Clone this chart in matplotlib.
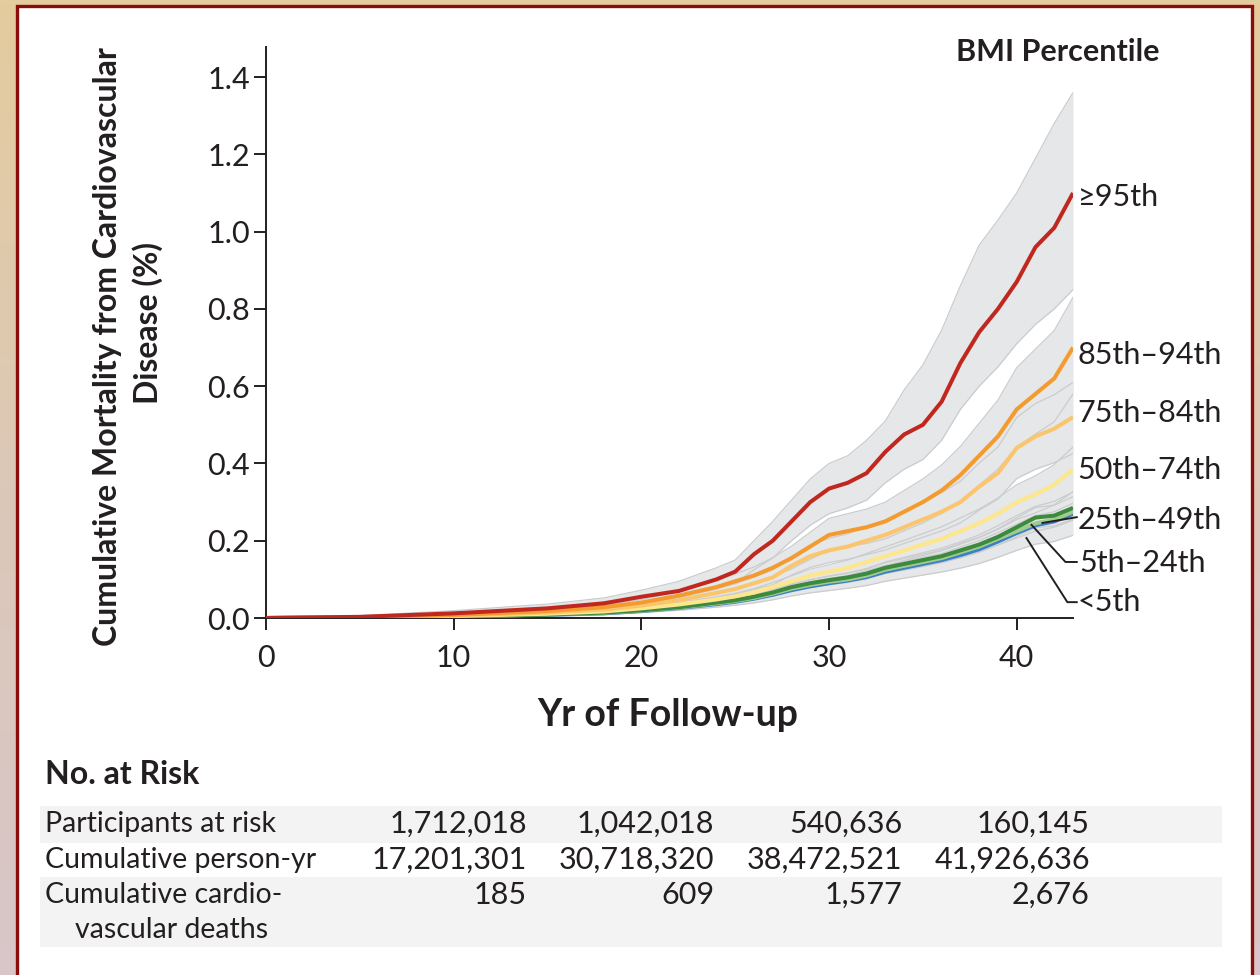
import numpy as np
import matplotlib.pyplot as plt
from matplotlib.patches import Rectangle
from matplotlib.colors import LinearSegmentedColormap
from matplotlib.transforms import blended_transform_factory

plt.rcParams['font.family'] = ['Lato', 'DejaVu Sans']

# years of follow-up where the curves were read
yrs = [0, 5, 10, 15, 18, 20, 22, 24, 25, 26, 27, 28, 29, 30, 31, 32, 33, 34, 35,
       36, 37, 38, 39, 40, 41, 42, 43]

# cumulative mortality (%) with 95% CI, by BMI percentile
p95_est = [0, 0.003, 0.012, 0.025, 0.038, 0.055, 0.07, 0.10, 0.12, 0.165, 0.20, 0.25, 0.30, 0.335,
           0.35, 0.375, 0.43, 0.475, 0.50, 0.56, 0.66, 0.74, 0.80, 0.87, 0.96, 1.01, 1.10]
p95_lo = [0, 0.001, 0.007, 0.017, 0.027, 0.04, 0.053, 0.075, 0.09, 0.125, 0.155, 0.20, 0.24, 0.27,
          0.285, 0.305, 0.35, 0.385, 0.41, 0.46, 0.54, 0.60, 0.65, 0.71, 0.76, 0.80, 0.85]
p95_hi = [0, 0.006, 0.019, 0.036, 0.052, 0.072, 0.095, 0.13, 0.15, 0.20, 0.25, 0.305, 0.36, 0.40,
          0.42, 0.46, 0.51, 0.59, 0.655, 0.745, 0.86, 0.965, 1.03, 1.10, 1.19, 1.28, 1.36]

p85_est = [0, 0.002, 0.008, 0.018, 0.028, 0.04, 0.058, 0.08, 0.095, 0.11, 0.13, 0.155, 0.185, 0.215,
           0.225, 0.235, 0.25, 0.275, 0.30, 0.33, 0.37, 0.42, 0.47, 0.54, 0.58, 0.62, 0.70]
p85_lo = [0, 0.0016, 0.0066, 0.015, 0.023, 0.033, 0.048, 0.066, 0.078, 0.09, 0.107, 0.127, 0.152, 0.176,
          0.185, 0.193, 0.205, 0.226, 0.246, 0.271, 0.303, 0.344, 0.385, 0.443, 0.476, 0.508, 0.58]
p85_hi = [0, 0.0024, 0.0096, 0.022, 0.034, 0.048, 0.07, 0.096, 0.114, 0.132, 0.156, 0.186, 0.222, 0.258,
          0.27, 0.282, 0.30, 0.33, 0.36, 0.396, 0.444, 0.504, 0.564, 0.648, 0.696, 0.744, 0.83]

p75_est = [0, 0.001, 0.006, 0.014, 0.022, 0.032, 0.046, 0.065, 0.075, 0.09, 0.105, 0.135, 0.16, 0.175,
           0.185, 0.20, 0.215, 0.235, 0.255, 0.275, 0.30, 0.34, 0.375, 0.44, 0.47, 0.49, 0.52]
p75_lo = [0, 0.0008, 0.0049, 0.0115, 0.018, 0.026, 0.038, 0.053, 0.0615, 0.074, 0.086, 0.111, 0.131, 0.1435,
          0.152, 0.164, 0.176, 0.193, 0.209, 0.2255, 0.246, 0.279, 0.3075, 0.361, 0.385, 0.402, 0.426]
p75_hi = [0, 0.0012, 0.0071, 0.0165, 0.026, 0.038, 0.054, 0.077, 0.0885, 0.106, 0.124, 0.159, 0.189, 0.2065,
          0.218, 0.236, 0.254, 0.277, 0.301, 0.3245, 0.354, 0.401, 0.4425, 0.519, 0.555, 0.578, 0.61]

p50_est = [0, 0.001, 0.005, 0.011, 0.017, 0.025, 0.035, 0.048, 0.056, 0.066, 0.08, 0.095, 0.11, 0.12,
           0.13, 0.145, 0.16, 0.175, 0.19, 0.205, 0.225, 0.245, 0.27, 0.30, 0.32, 0.345, 0.385]
p50_lo = [0, 0.00085, 0.0043, 0.0094, 0.0145, 0.021, 0.03, 0.041, 0.048, 0.056, 0.068, 0.081, 0.0935, 0.102,
          0.1105, 0.123, 0.136, 0.149, 0.1615, 0.174, 0.191, 0.208, 0.2295, 0.255, 0.272, 0.293, 0.327]
p50_hi = [0, 0.00115, 0.0058, 0.0127, 0.0196, 0.029, 0.04, 0.055, 0.064, 0.076, 0.092, 0.109, 0.1265, 0.138,
          0.1495, 0.167, 0.184, 0.201, 0.2185, 0.236, 0.259, 0.282, 0.3105, 0.345, 0.368, 0.397, 0.443]

p25_est = [0, 0.001, 0.004, 0.009, 0.014, 0.02, 0.028, 0.04, 0.046, 0.055, 0.066, 0.08, 0.09, 0.098,
           0.105, 0.115, 0.13, 0.14, 0.15, 0.16, 0.175, 0.19, 0.21, 0.235, 0.26, 0.265, 0.285]
p25_lo = [0, 0.0008, 0.0035, 0.008, 0.0125, 0.018, 0.025, 0.036, 0.041, 0.049, 0.059, 0.072, 0.081, 0.088,
          0.094, 0.103, 0.117, 0.126, 0.135, 0.144, 0.157, 0.171, 0.189, 0.211, 0.234, 0.238, 0.256]
p25_hi = [0, 0.0012, 0.0045, 0.01, 0.0155, 0.022, 0.031, 0.044, 0.051, 0.061, 0.073, 0.088, 0.099, 0.108,
          0.116, 0.127, 0.143, 0.154, 0.165, 0.176, 0.193, 0.209, 0.231, 0.259, 0.286, 0.292, 0.314]

p5_est = [0, 0.001, 0.004, 0.009, 0.013, 0.019, 0.027, 0.038, 0.044, 0.052, 0.063, 0.076, 0.086, 0.094,
          0.10, 0.11, 0.125, 0.135, 0.145, 0.155, 0.17, 0.185, 0.205, 0.225, 0.245, 0.255, 0.275]
p5_lo = [0, 0.0008, 0.0035, 0.0083, 0.012, 0.0175, 0.025, 0.035, 0.0405, 0.048, 0.058, 0.07, 0.079, 0.086,
         0.092, 0.101, 0.115, 0.124, 0.133, 0.143, 0.156, 0.17, 0.189, 0.207, 0.225, 0.235, 0.253]
p5_hi = [0, 0.0012, 0.0045, 0.0097, 0.014, 0.0205, 0.029, 0.041, 0.0475, 0.056, 0.068, 0.082, 0.093, 0.102,
         0.108, 0.119, 0.135, 0.146, 0.157, 0.167, 0.184, 0.20, 0.221, 0.243, 0.265, 0.275, 0.297]

p0_est = [0, 0.001, 0.004, 0.008, 0.012, 0.018, 0.026, 0.036, 0.042, 0.05, 0.06, 0.072, 0.082, 0.09,
          0.097, 0.106, 0.12, 0.13, 0.14, 0.15, 0.163, 0.178, 0.198, 0.22, 0.24, 0.25, 0.27]
p0_lo = [0, 0.0006, 0.003, 0.0062, 0.0093, 0.014, 0.02, 0.028, 0.033, 0.039, 0.047, 0.057, 0.065, 0.071,
         0.077, 0.084, 0.095, 0.103, 0.111, 0.119, 0.129, 0.141, 0.157, 0.175, 0.191, 0.198, 0.214]
p0_hi = [0, 0.0014, 0.005, 0.0098, 0.0147, 0.022, 0.032, 0.044, 0.051, 0.061, 0.073, 0.087, 0.099, 0.109,
         0.117, 0.128, 0.145, 0.157, 0.169, 0.181, 0.197, 0.215, 0.239, 0.265, 0.289, 0.302, 0.326]

groups = ["≥95th", "85th–94th", "75th–84th", "50th–74th", "25th–49th", "5th–24th", "<5th"]
colors = ["#c0281f", "#f39b2e", "#fbc56e", "#fde68c", "#3b8a3e", "#9fcb8c", "#3a7fc8"]
label_y = [1.09, 0.68, 0.53, 0.383, 0.254, 0.142, 0.041]

# no. at risk table
row_names = ["Participants at risk", "Cumulative person-yr", "Cumulative cardio-"]
risk_yrs = [10, 20, 30, 40]
participants = ["1,712,018", "1,042,018", "540,636", "160,145"]
person_yr = ["17,201,301", "30,718,320", "38,472,521", "41,926,636"]
cv_deaths = ["185", "609", "1,577", "2,676"]

series = [(p95_est, p95_lo, p95_hi), (p85_est, p85_lo, p85_hi), (p75_est, p75_lo, p75_hi),
          (p50_est, p50_lo, p50_hi), (p25_est, p25_lo, p25_hi), (p5_est, p5_lo, p5_hi),
          (p0_est, p0_lo, p0_hi)]

INK = "#231f20"
W, H = 1260, 975
fig = plt.figure(figsize=(W / 100, H / 100), dpi=100)

# backdrop and framed white panel
bg = fig.add_axes([0, 0, 1, 1], zorder=-10)
grad = LinearSegmentedColormap.from_list("bg", ["#e4cc9e", "#dcc8b8", "#d8c6c9"])
bg.imshow(np.linspace(0, 1, 256).reshape(-1, 1), aspect="auto", cmap=grad, extent=[0, 1, 0, 1])
bg.set_xlim(0, 1)
bg.set_ylim(0, 1)
bg.axis("off")
bg.add_patch(Rectangle((16.5 / W, -0.02), (1251.5 - 16.5) / W, 1 - 5.5 / H + 0.02,
                       facecolor="white", edgecolor="#8a0c0c", linewidth=2.4))


def fx(px):
    return px / W


def fy(py):
    return 1 - py / H


ax = fig.add_axes([fx(266), fy(618), fx(1073) - fx(266), fy(47) - fy(618)])
ax.patch.set_alpha(0)

# CI bands
for est, lo, hi in series:
    ax.fill_between(yrs, lo, hi, color="#e6e7e8", lw=0, zorder=1)
for est, lo, hi in series:
    ax.plot(yrs, lo, color="#cbccce", lw=0.9, zorder=2)
    ax.plot(yrs, hi, color="#cbccce", lw=0.9, zorder=2)

# estimates, lowest groups first so red sits on top
for i in range(len(series) - 1, -1, -1):
    est = series[i][0]
    ax.plot(yrs, est, color=colors[i], lw=2.9, zorder=3 + (len(series) - i),
            solid_joinstyle="round", solid_capstyle="butt")

ax.set_xlim(0, 43)
ax.set_ylim(0, 1.478)
ax.set_xticks([0, 10, 20, 30, 40])
ax.set_yticks(np.arange(0, 1.41, 0.2))
ax.set_yticklabels([f"{v:.1f}" for v in np.arange(0, 1.41, 0.2)])
for s in ["top", "right"]:
    ax.spines[s].set_visible(False)
for s in ["left", "bottom"]:
    ax.spines[s].set_linewidth(1.4)
    ax.spines[s].set_color(INK)
ax.tick_params(direction="out", length=8.5, width=1.4, color=INK,
               labelsize=22, labelcolor=INK)
ax.tick_params(axis="y", pad=3)
ax.tick_params(axis="x", pad=10)

# right-hand group labels
for g, yv in zip(groups, label_y):
    xoff = 43.35 if g == "5th–24th" else 43.25
    ax.text(xoff, yv, g, fontsize=22, color=INK, va="center", ha="left", clip_on=False)

# leader lines for the crowded bottom groups
leaders = [
    ([43.2, 41.37], [0.261, 0.246]),
    ([43.2, 42.6, 40.79], [0.145, 0.145, 0.241]),
    ([43.2, 42.7, 40.52], [0.041, 0.041, 0.207]),
]
for lx, ly in leaders:
    ax.plot(lx, ly, color=INK, lw=1.4, clip_on=False, zorder=20)

fig.text(fx(1160), fy(52), "BMI Percentile", fontsize=22, fontweight="bold",
         color=INK, ha="right", va="center")
fig.text(fx(108), fy(347), "Cumulative Mortality from Cardiovascular",
         rotation=90, fontsize=23, fontweight="bold", color=INK, ha="center", va="center")
fig.text(fx(148), fy(323), "Disease (%)",
         rotation=90, fontsize=23, fontweight="bold", color=INK, ha="center", va="center")
fig.text(fx(668), fy(715), "Yr of Follow-up", fontsize=27, fontweight="bold",
         color=INK, ha="center", va="center")

# no. at risk table
fig.text(fx(45), fy(775), "No. at Risk", fontsize=23, fontweight="bold",
         color=INK, ha="left", va="center")
for top, bot in [(806, 843), (877, 947)]:
    fig.patches.append(Rectangle((fx(40), fy(bot)), fx(1222) - fx(40), fy(top) - fy(bot),
                                 transform=fig.transFigure, facecolor="#f3f3f3",
                                 edgecolor="none", zorder=0))
row_y = [824, 860, 895]
for name, yy in zip(row_names, row_y):
    fig.text(fx(45), fy(yy), name, fontsize=20.5, color=INK, ha="left", va="center")
fig.text(fx(75), fy(930), "vascular deaths", fontsize=20.5, color=INK,
         ha="left", va="center")

tr = blended_transform_factory(ax.transData, fig.transFigure)
for vals, yy in zip([participants, person_yr, cv_deaths], row_y):
    for yr, v in zip(risk_yrs, vals):
        fig.text(yr + 3.9, fy(yy), v, fontsize=22, color=INK, ha="right",
                 va="center", transform=tr)

fig.savefig("out.png", dpi=100)
